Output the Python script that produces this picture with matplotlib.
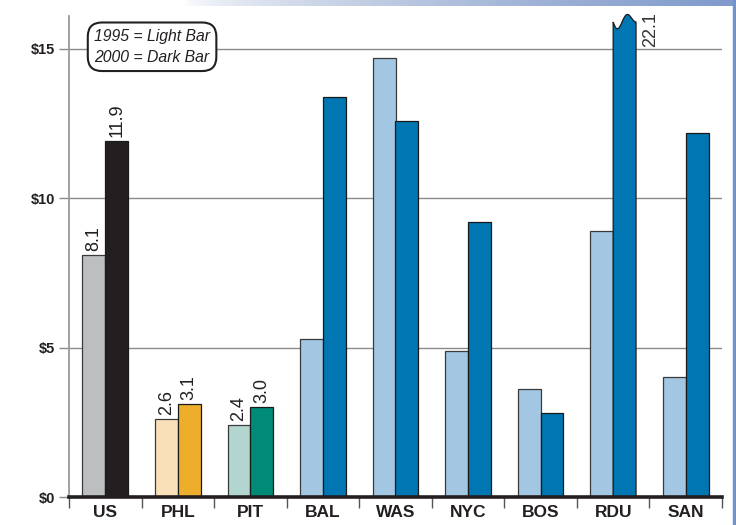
import matplotlib
matplotlib.use("Agg")
import matplotlib.pyplot as plt
import numpy as np
from matplotlib.patches import Polygon

# Data
cities = ["US", "PHL", "PIT", "BAL", "WAS", "NYC", "BOS", "RDU", "SAN"]
values_1995 = [8.1, 2.6, 2.4, 5.3, 14.7, 4.9, 3.6, 8.9, 4.0]
values_2000 = [11.9, 3.1, 3.0, 13.4, 12.6, 9.2, 2.8, 22.1, 12.2]
labelled = ["US", "PHL", "PIT"]          # bars that carry value labels
yticks = [0, 5, 10, 15]
ytick_labels = ["$0", "$5", "$10", "$15"]

light_colors = ["#bdbec0", "#f9e0b8", "#b3d5cf"] + ["#a3c6e2"] * 6
dark_colors = ["#231f20", "#edae2b", "#008a78"] + ["#0076b3"] * 6

narrow = ["Liberation Sans Narrow", "Liberation Sans", "DejaVu Sans"]
plt.rcParams["font.family"] = ["Liberation Sans", "DejaVu Sans"]

fig = plt.figure(figsize=(7.36, 5.25), dpi=100)
ax = fig.add_axes([69 / 736, 28 / 525, 653 / 736, 481 / 525])
ymax = 16.1
clip_level = 15.9

x = np.arange(len(cities))
w = 0.315
ax.set_xlim(-0.5, len(cities) - 0.5)
ax.set_ylim(0, ymax)

# grid lines behind bars
for yv in yticks[1:]:
    ax.axhline(yv, color="#8a8a8a", lw=1, zorder=0)

bars_l = ax.bar(x - w / 2, values_1995, w, color=light_colors,
                edgecolor="#3a3a3a", lw=0.9, zorder=2)
bars_d = ax.bar(x + w / 2, np.minimum(values_2000, ymax + 1), w, color=dark_colors,
                edgecolor="#1a1a1a", lw=0.9, zorder=2)

# broken bar(s) that run off the top get a wavy cap
for rect, val, col in zip(bars_d, values_2000, dark_colors):
    if val > clip_level:
        rect.set_visible(False)
        x0 = rect.get_x()
        x1 = x0 + rect.get_width()
        t = np.linspace(0, 1, 60)
        wave = clip_level - 0.35 * np.sin(np.pi * 2 * t) * (1 - t) ** 1.2 \
            + 0.3 * np.sin(np.pi * t) ** 2 * t ** 0.8
        xs = x0 + t * (x1 - x0)
        pts = [(x0, 0)] + list(zip(xs, wave)) + [(x1, 0)]
        poly = Polygon(pts, closed=True, facecolor=col, edgecolor="#1a1a1a",
                       lw=0.9, zorder=3, clip_on=False)
        ax.add_patch(poly)
        ax.text(x1 + 0.2, 15.05, f"{val:.1f}", rotation=90, ha="center",
                va="bottom", fontsize=13, color="#333333")

# value labels
for i, c in enumerate(cities):
    if c in labelled:
        for rect, val in ((bars_l[i], values_1995[i]), (bars_d[i], values_2000[i])):
            ax.text(rect.get_x() + rect.get_width() / 2, val + 0.15, f"{val:.1f}",
                    rotation=90, ha="center", va="bottom", fontsize=13,
                    color="#231f20")

# axes styling
for s in ["top", "right"]:
    ax.spines[s].set_visible(False)
ax.spines["left"].set_color("#9a9a9a")
ax.spines["left"].set_linewidth(1.3)
ax.spines["bottom"].set_color("#231f20")
ax.spines["bottom"].set_linewidth(2.6)
ax.spines["bottom"].set_zorder(5)

ax.set_yticks(yticks)
ax.set_yticklabels(ytick_labels, fontsize=10.5, fontweight="bold",
                   family=narrow, color="#231f20")
ax.tick_params(axis="y", length=7, width=1, color="#8a8a8a", pad=3)

ax.set_xticks(np.arange(len(cities) + 1) - 0.5)
ax.set_xticklabels([])
ax.tick_params(axis="x", length=8, width=1, color="#555555")
for i, c in enumerate(cities):
    ax.text(i, -0.27, c, ha="center", va="top", fontsize=12.5,
            fontweight="bold", family=narrow, color="#231f20")

# legend box
ax.text(0.645, 15.07, "1995 = Light Bar\n2000 = Dark Bar",
        ha="center", va="center", fontsize=11.3, style="italic",
        color="#231f20", linespacing=1.5, zorder=6,
        bbox=dict(boxstyle="round,pad=0.4,rounding_size=0.9", fc="white",
                  ec="#231f20", lw=1.5))

# decorative frame: gradient top band and right strip
band = fig.add_axes([0, 1 - 6 / 525, 1, 6 / 525])
grad = np.clip((np.linspace(0, 1, 400) - 0.25) / 0.75, 0, 1) ** 0.6
band.imshow(grad[None, :], aspect="auto", cmap=matplotlib.colors.LinearSegmentedColormap.from_list(
    "b", ["#ffffff", "#c4cfe4", "#7f9acb"]), extent=[0, 1, 0, 1])
band.axis("off")
fig.patches.append(plt.Rectangle((733 / 736, 0), 3 / 736, 1, transform=fig.transFigure,
                                 color="#6f93cc", zorder=10))

fig.savefig("out.png", dpi=100)
